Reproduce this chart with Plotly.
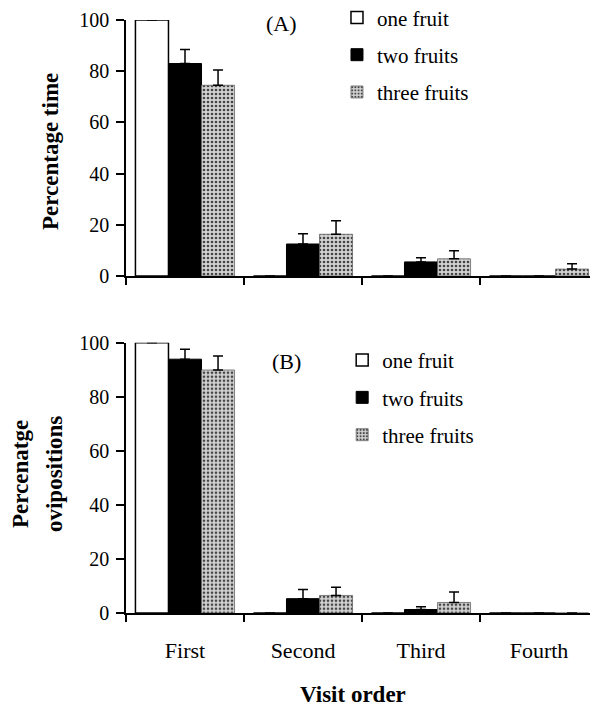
import plotly.graph_objects as go
from plotly.subplots import make_subplots

categories = ["First", "Second", "Third", "Fourth"]
series_names = ["one fruit", "two fruits", "three fruits"]

# Panel A: percentage time
time_one = [100, 0, 0, 0]
time_two = [83, 12.5, 5.5, 0]
time_three = [74.5, 16.3, 6.7, 2.7]
time_one_err = [0, 0, 0, 0]
time_two_err = [5.5, 4.0, 1.6, 0]
time_three_err = [6.0, 5.3, 3.2, 2.1]

# Panel B: percentage ovipositions
ovi_one = [100, 0, 0, 0]
ovi_two = [93.9, 5.3, 1.3, 0]
ovi_three = [89.9, 6.5, 3.9, 0]
ovi_one_err = [0, 0, 0, 0]
ovi_two_err = [3.7, 3.4, 1.0, 0]
ovi_three_err = [5.2, 3.0, 3.9, 0]

y_ticks = [0, 20, 40, 60, 80, 100]

FONT = "Liberation Serif, Times New Roman, serif"

fig = make_subplots(rows=2, cols=1, shared_xaxes=False, vertical_spacing=0.0)

def styles(i):
    if i == 0:
        return dict(color="white", line=dict(color="black", width=1.5))
    if i == 1:
        return dict(color="black", line=dict(color="black", width=1))
    return dict(color="#b5b5b5", line=dict(color="#666666", width=0.8),
                pattern=dict(shape=".", fgcolor="#444444", bgcolor="#d2d2d2",
                             size=4, solidity=0.35, fillmode="replace"))

panels = [
    (1, [time_one, time_two, time_three], [time_one_err, time_two_err, time_three_err], "legend"),
    (2, [ovi_one, ovi_two, ovi_three], [ovi_one_err, ovi_two_err, ovi_three_err], "legend2"),
]

for row, vals, errs, leg in panels:
    for i, name in enumerate(series_names):
        e = errs[i]
        fig.add_trace(go.Bar(
            x=categories, y=vals[i], name=name,
            marker=styles(i),
            legend=leg, legendgroup=f"{leg}_{i}",
            error_y=dict(type="data", symmetric=False, array=e,
                         arrayminus=[0] * len(e), color="black",
                         thickness=1.5, width=5, visible=True),
        ), row=row, col=1)

# page body has an 8px margin; figure is sized/offset to compensate
fig.update_layout(
    width=590, height=704,
    margin=dict(l=118, r=0, t=12, b=99, autoexpand=False),
    plot_bgcolor="white", paper_bgcolor="white",
    barmode="group", bargap=0.16, bargroupgap=0,
    font=dict(family=FONT, size=21, color="black"),
    showlegend=True,
    legend=dict(x=0.447, y=1.0384, xanchor="left", yanchor="top",
                font=dict(family=FONT, size=21), bgcolor="rgba(0,0,0,0)",
                traceorder="grouped", tracegroupgap=7, itemwidth=30),
    legend2=dict(x=0.458, y=0.4605, xanchor="left", yanchor="top",
                 font=dict(family=FONT, size=21), bgcolor="rgba(0,0,0,0)",
                 traceorder="grouped", tracegroupgap=7, itemwidth=30),
)

fig.update_yaxes(row=1, col=1, domain=[0.5683, 1.0])
fig.update_yaxes(row=2, col=1, domain=[0.0, 0.4558])

for r in (1, 2):
    fig.update_yaxes(row=r, col=1, range=[0, 100], tickvals=y_ticks,
                     ticks="outside", ticklen=8, tickwidth=1.5, tickcolor="black",
                     showline=True, linecolor="black", linewidth=1.5,
                     showgrid=False, zeroline=False, ticklabelstandoff=3,
                     ticklabeloverflow="allow",
                     tickfont=dict(family=FONT, size=20))
    fig.update_xaxes(row=r, col=1, type="category", categoryorder="array",
                     categoryarray=categories, range=[-0.5, 3.5],
                     tickson="boundaries", ticks="outside", ticklen=7,
                     tickwidth=1.5, tickcolor="black",
                     showline=True, linecolor="black", linewidth=1.5,
                     showgrid=False, zeroline=False,
                     tickfont=dict(family=FONT, size=22))
fig.update_xaxes(row=1, col=1, showticklabels=False)
fig.update_xaxes(row=2, col=1, ticklabelstandoff=17)

def note(text, x, y, size, angle=0):
    fig.add_annotation(text=text, xref="paper", yref="paper", x=x, y=y,
                       xanchor="center", yanchor="middle", textangle=angle,
                       showarrow=False, font=dict(family=FONT, size=size))

note("(A)", 0.3305, 0.9949, 22)
note("(B)", 0.339, 0.4233, 22)
note("<b>Percentage time</b>", -0.161, 0.7774, 23, -90)
note("<b>Percenatge</b>", -0.2246, 0.2344, 23, -90)
note("<b>ovipositions</b>", -0.1525, 0.2344, 23, -90)
note("<b>Visit order</b>", 0.481, -0.1366, 23)

fig.write_html("out.html")
